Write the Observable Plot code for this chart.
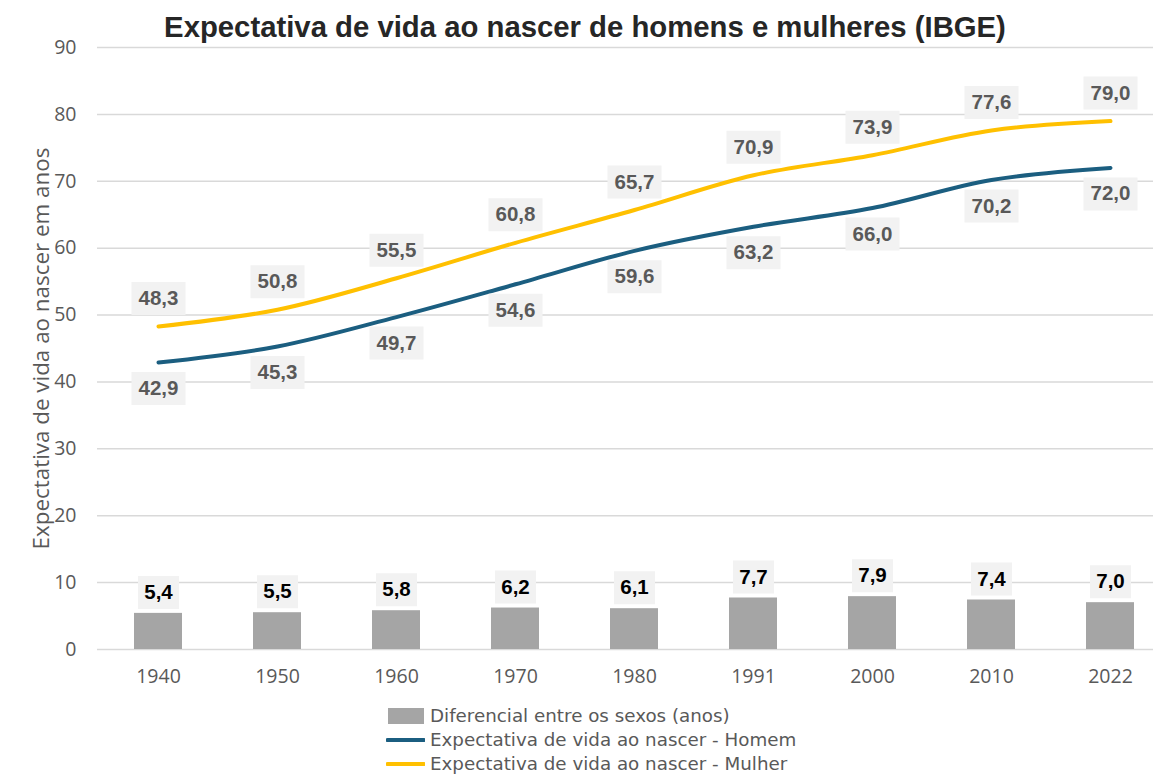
<!DOCTYPE html>
<html><head><meta charset="utf-8">
<script src="https://cdn.jsdelivr.net/npm/d3@7"></script>
<script src="https://cdn.jsdelivr.net/npm/@observablehq/plot@0.6"></script>
<style>
body{margin:0;background:#fff;}
#wrap{position:relative;width:1153px;height:776px;overflow:hidden;}
#title{position:absolute;left:0;width:1170px;top:10px;text-align:center;font:bold 29.3px "Liberation Sans",Arial,sans-serif;color:#262626;}
#chart{position:absolute;left:0;top:0;}
#legend{position:absolute;left:386px;top:704px;font:18.3px "DejaVu Sans",sans-serif;color:#595959;}
.row{display:flex;align-items:center;height:24px;}
.row span{line-height:22px;display:block;}
.sw{width:39px;margin-right:5px;}
</style></head>
<body><div id="wrap"><div id="chart"></div><div id="title">Expectativa de vida ao nascer de homens e mulheres (IBGE)</div>
<div id="legend"></div></div>
<script>
const years = ["1940","1950","1960","1970","1980","1991","2000","2010","2022"];
const mulher = [48.3, 50.8, 55.5, 60.8, 65.7, 70.9, 73.9, 77.6, 79.0];
const homem = [42.9, 45.3, 49.7, 54.6, 59.6, 63.2, 66.0, 70.2, 72.0];
const diferencial = [5.4, 5.5, 5.8, 6.2, 6.1, 7.7, 7.9, 7.4, 7.0];
const yTicks = [0,10,20,30,40,50,60,70,80,90];
const seriesNames = ["Diferencial entre os sexos (anos)","Expectativa de vida ao nascer - Homem","Expectativa de vida ao nascer - Mulher"];

const cBar = "#a5a5a5", cHomem = "#1b5e80", cMulher = "#ffc000";
const fmt = v => v.toFixed(1).replace(".", ",");
const rows = years.map((y,i)=>({year:y, m:mulher[i], h:homem[i], d:diferencial[i]}));

const box = (w,h) => ({draw(ctx){ ctx.rect(-w/2,-h/2,w,h); }});
const labelFont = {fontSize:20.5, fontWeight:"bold", fontFamily:"Liberation Sans, Arial, sans-serif"};

const plot = Plot.plot({
  width:1153, height:700,
  marginLeft:97, marginRight:0, marginTop:47, marginBottom:51,
  style:{fontFamily:"Open Sans, sans-serif", fontSize:"19.5px", color:"#595959", background:"transparent"},
  x:{type:"band", domain:years, range:[97.4,1170.6], paddingInner:0.6, paddingOuter:0.3, label:null},
  y:{domain:[0,90], label:null},
  marks:[
    Plot.ruleY(yTicks, {stroke:"#d9d9d9", strokeWidth:1.5}),
    Plot.axisY({ticks:yTicks, tickSize:0, tickPadding:21, fill:"#595959"}),
    Plot.axisY({ticks:[], tickSize:0, label:"Expectativa de vida ao nascer em anos", labelAnchor:"center", labelArrow:"none", labelOffset:64, fontSize:22.4, fill:"#595959"}),
    Plot.axisX({tickSize:0, tickPadding:20, fill:"#595959", label:null}),
    Plot.barY(rows, {x:"year", y:"d", fill:cBar}),
    Plot.line(rows, {x:"year", y:"h", stroke:cHomem, strokeWidth:4, curve:"catmull-rom", strokeLinecap:"round"}),
    Plot.line(rows, {x:"year", y:"m", stroke:cMulher, strokeWidth:4, curve:"catmull-rom", strokeLinecap:"round"}),
    // label boxes
    Plot.dot(rows, {x:"year", y:"m", dy:-28, symbol:box(54,33), fill:"#f2f2f2", stroke:null}),
    Plot.dot(rows, {x:"year", y:"h", dy:26, symbol:box(54,33), fill:"#f2f2f2", stroke:null}),
    Plot.dot(rows, {x:"year", y:"d", dy:-21, symbol:box(41,33), fill:"#f2f2f2", stroke:null}),
    Plot.text(rows, {x:"year", y:"m", dy:-28, text:d=>fmt(d.m), fill:"#595959", ...labelFont}),
    Plot.text(rows, {x:"year", y:"h", dy:26, text:d=>fmt(d.h), fill:"#595959", ...labelFont}),
    Plot.text(rows, {x:"year", y:"d", dy:-21, text:d=>fmt(d.d), fill:"#000", ...labelFont})
  ]
});
document.getElementById("chart").appendChild(plot);

const lg = document.getElementById("legend");
const sw = [
  `<svg class="sw" width="39" height="18"><rect x="2" y="1" width="36" height="16" fill="${cBar}"/></svg>`,
  `<svg class="sw" width="39" height="18"><line x1="1.5" x2="38" y1="9" y2="9" stroke="${cHomem}" stroke-width="4" stroke-linecap="round"/></svg>`,
  `<svg class="sw" width="39" height="18"><line x1="1.5" x2="38" y1="9" y2="9" stroke="${cMulher}" stroke-width="4" stroke-linecap="round"/></svg>`
];
seriesNames.forEach((n,i)=>{ const r=document.createElement("div"); r.className="row"; r.innerHTML=sw[i]+`<span>${n}</span>`; lg.appendChild(r); });
</script></body></html>
